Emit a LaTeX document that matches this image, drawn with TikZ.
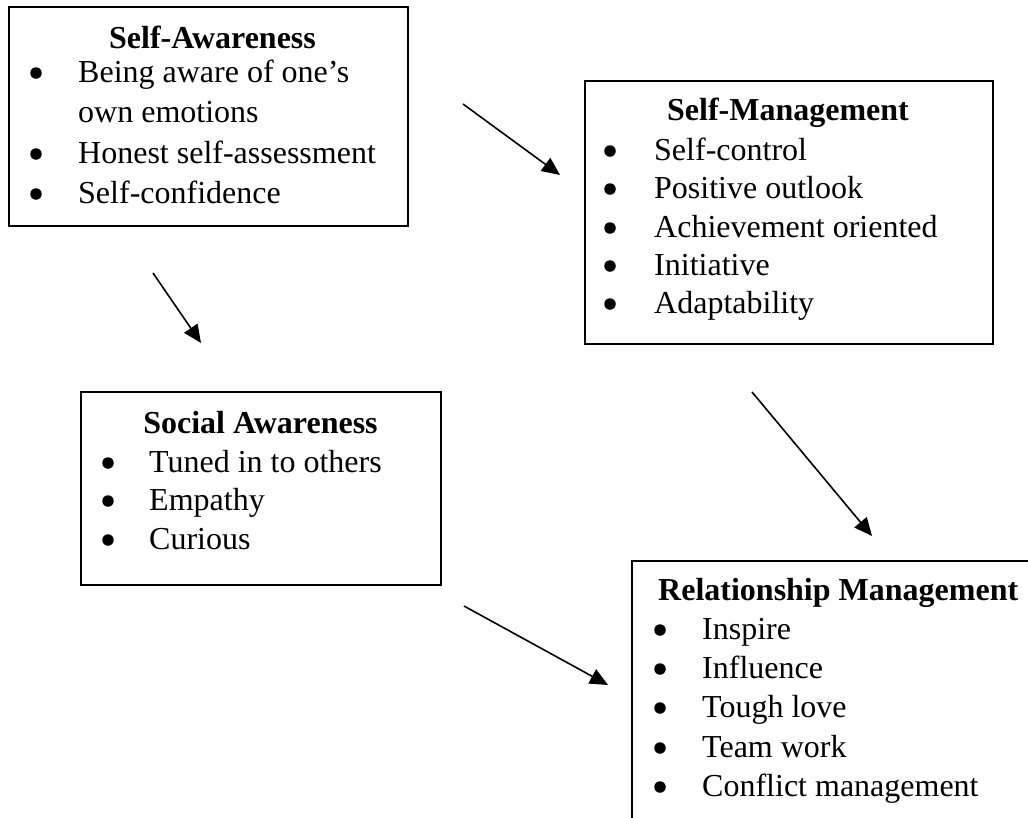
\documentclass[tikz,border=0pt]{standalone}
\usepackage{fontspec}
\setmainfont{Liberation Serif}
\usetikzlibrary{arrows.meta}
\begin{document}
\begin{tikzpicture}[x=1pt,y=-1pt,
  box/.style={draw=black, line width=2pt, rectangle, inner sep=0pt, fill=none},
  itemtext/.style={anchor=base west, inner sep=0pt, font=\fontsize{32}{38}\selectfont},
  titletext/.style={anchor=base, inner sep=0pt, font=\fontsize{32}{38}\selectfont\bfseries},
  dot/.style={circle, fill=black, inner sep=0pt, minimum size=11.5pt},
  conn/.style={line width=1.6pt, -{Triangle[length=18pt,width=16pt]}}]
\clip (0,0) rectangle (1028,817);
\fill[white] (0,0) rectangle (1028,817);

% Self-Awareness
\node[box, minimum width=399pt, minimum height=219pt] (sabox) at (208.5,116.5) {};
\node[titletext] (satitle) at (212.5,48) {Self-Awareness};
\node[dot] (sab1) at (36,73) {};
\node[itemtext] (sa1) at (78,82) {Being aware of one’s};
\node[itemtext] (sa1b) at (78,122) {own emotions};
\node[dot] (sab2) at (36,154) {};
\node[itemtext] (sa2) at (78,163) {Honest self-assessment};
\node[dot] (sab3) at (36,194) {};
\node[itemtext] (sa3) at (78,203) {Self-confidence};

% Self-Management
\node[box, minimum width=408pt, minimum height=263pt] (smbox) at (789,212.5) {};
\node[titletext] (smtitle) at (788,120) {Self-Management};
\node[dot] (smb1) at (610,151) {};
\node[itemtext] (sm1) at (654,160) {Self-control};
\node[dot] (smb2) at (610,189) {};
\node[itemtext] (sm2) at (654,198) {Positive outlook};
\node[dot] (smb3) at (610,228) {};
\node[itemtext] (sm3) at (654,237) {Achievement oriented};
\node[dot] (smb4) at (610,266) {};
\node[itemtext] (sm4) at (654,275) {Initiative};
\node[dot] (smb5) at (610,304) {};
\node[itemtext] (sm5) at (654,313) {Adaptability};

% Social Awareness
\node[box, minimum width=360pt, minimum height=193pt] (sobox) at (261,488.5) {};
\node[titletext] (sotitle) at (260.5,433) {Social Awareness};
\node[dot] (sob1) at (108,463) {};
\node[itemtext] (so1) at (149,472) {Tuned in to others};
\node[dot] (sob2) at (108,501) {};
\node[itemtext] (so2) at (149,510) {Empathy};
\node[dot] (sob3) at (108,540) {};
\node[itemtext] (so3) at (149,549) {Curious};

% Relationship Management
\node[box, minimum width=413pt, minimum height=279pt] (rmbox) at (838.5,700.5) {};
\node[titletext, anchor=base west] (rmtitle) at (658,600) {Relationship Management};
\node[dot] (rmb1) at (660,630) {};
\node[itemtext] (rm1) at (702,639) {Inspire};
\node[dot] (rmb2) at (660,669) {};
\node[itemtext] (rm2) at (702,678) {Influence};
\node[dot] (rmb3) at (660,708) {};
\node[itemtext] (rm3) at (702,717) {Tough love};
\node[dot] (rmb4) at (660,748) {};
\node[itemtext] (rm4) at (702,757) {Team work};
\node[dot] (rmb5) at (660,787) {};
\node[itemtext] (rm5) at (702,796) {Conflict management};

% Arrows
\coordinate (a1s) at (463,104);
\coordinate (a1e) at (560,175);
\coordinate (a2s) at (153,273);
\coordinate (a2e) at (201,343);
\coordinate (a3s) at (752,392);
\coordinate (a3e) at (872,536);
\coordinate (a4s) at (464,606);
\coordinate (a4e) at (608,685);
\draw[conn] (a1s) -- (a1e);
\draw[conn] (a2s) -- (a2e);
\draw[conn] (a3s) -- (a3e);
\draw[conn] (a4s) -- (a4e);
\end{tikzpicture}
\end{document}
